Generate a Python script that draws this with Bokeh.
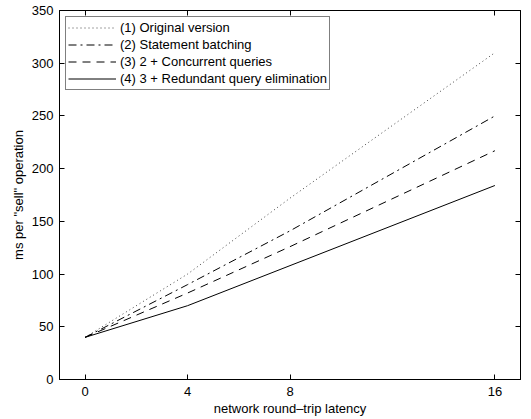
from bokeh.plotting import figure
from bokeh.models import LinearAxis, FixedTicker, Range1d, Legend, LegendItem
from bokeh.embed import file_html
from bokeh.resources import INLINE

latency = [0, 4, 8, 16]
original = [40, 100, 172, 310]
batching = [40, 90, 141, 250]
concurrent = [40, 82, 126, 217]
redundant = [40, 70, 108, 184]
names = ["(1) Original version", "(2) Statement batching",
         "(3) 2 + Concurrent queries", "(4) 3 + Redundant query elimination"]
x_ticks = [0, 4, 8, 16]
y_ticks = [0, 50, 100, 150, 200, 250, 300, 350]

FONT = "Liberation Sans"

p = figure(frame_width=461, frame_height=369, output_backend="svg", toolbar_location=None,
           x_range=Range1d(-1, 17), y_range=Range1d(0, 350),
           min_border_left=59, min_border_right=11, min_border_top=10, min_border_bottom=40)
p.grid.visible = False
p.outline_line_color = "black"

styles = [("1 3", "#444444"), ("8 4 2 4", "black"), ("8 6", "black"), ("solid", "black")]
series = [original, batching, concurrent, redundant]
renderers = []
for ys, (dash, col) in zip(series, styles):
    r = p.line(latency, ys, line_color=col, line_width=1, line_dash=dash)
    renderers.append(r)

for ax in [p.xaxis[0], p.yaxis[0]]:
    ax.major_tick_in = 5
    ax.major_tick_out = 0
    ax.minor_tick_line_color = None
    ax.major_label_text_font = FONT
    ax.major_label_text_font_size = "13px"
    ax.major_label_text_color = "black"
    ax.axis_label_text_font = FONT
    ax.axis_label_text_font_size = "13px"
    ax.axis_label_text_font_style = "normal"
    ax.axis_label_text_color = "black"
    ax.axis_line_color = "black"

p.xaxis[0].ticker = FixedTicker(ticks=x_ticks)
p.yaxis[0].ticker = FixedTicker(ticks=y_ticks)
p.xaxis[0].axis_label = "network round\u2013trip latency"
p.yaxis[0].axis_label = 'ms per "sell" operation'
p.xaxis[0].axis_label_standoff = 2
p.yaxis[0].axis_label_standoff = 3
p.xaxis[0].major_label_standoff = 7
p.yaxis[0].major_label_standoff = 6

top = LinearAxis(ticker=FixedTicker(ticks=x_ticks), major_tick_in=5, major_tick_out=0,
                 minor_tick_line_color=None, major_label_standoff=0,
                 major_label_overrides={t: "" for t in x_ticks})
right = LinearAxis(ticker=FixedTicker(ticks=y_ticks), major_tick_in=5, major_tick_out=0,
                   minor_tick_line_color=None, major_label_standoff=0,
                   major_label_overrides={t: "" for t in y_ticks})
p.add_layout(top, "above")
p.add_layout(right, "right")

legend = Legend(items=[LegendItem(label=n, renderers=[r]) for n, r in zip(names, renderers)],
                location="top_left", margin=6, padding=2, spacing=0,
                label_height=17, glyph_height=17, glyph_width=48, label_standoff=4,
                label_text_font=FONT, label_text_font_size="13px", label_text_color="black",
                border_line_color="black", border_line_width=1,
                background_fill_color="white", background_fill_alpha=1)
p.add_layout(legend, "center")

open("out.html", "w").write(file_html(p, INLINE))
